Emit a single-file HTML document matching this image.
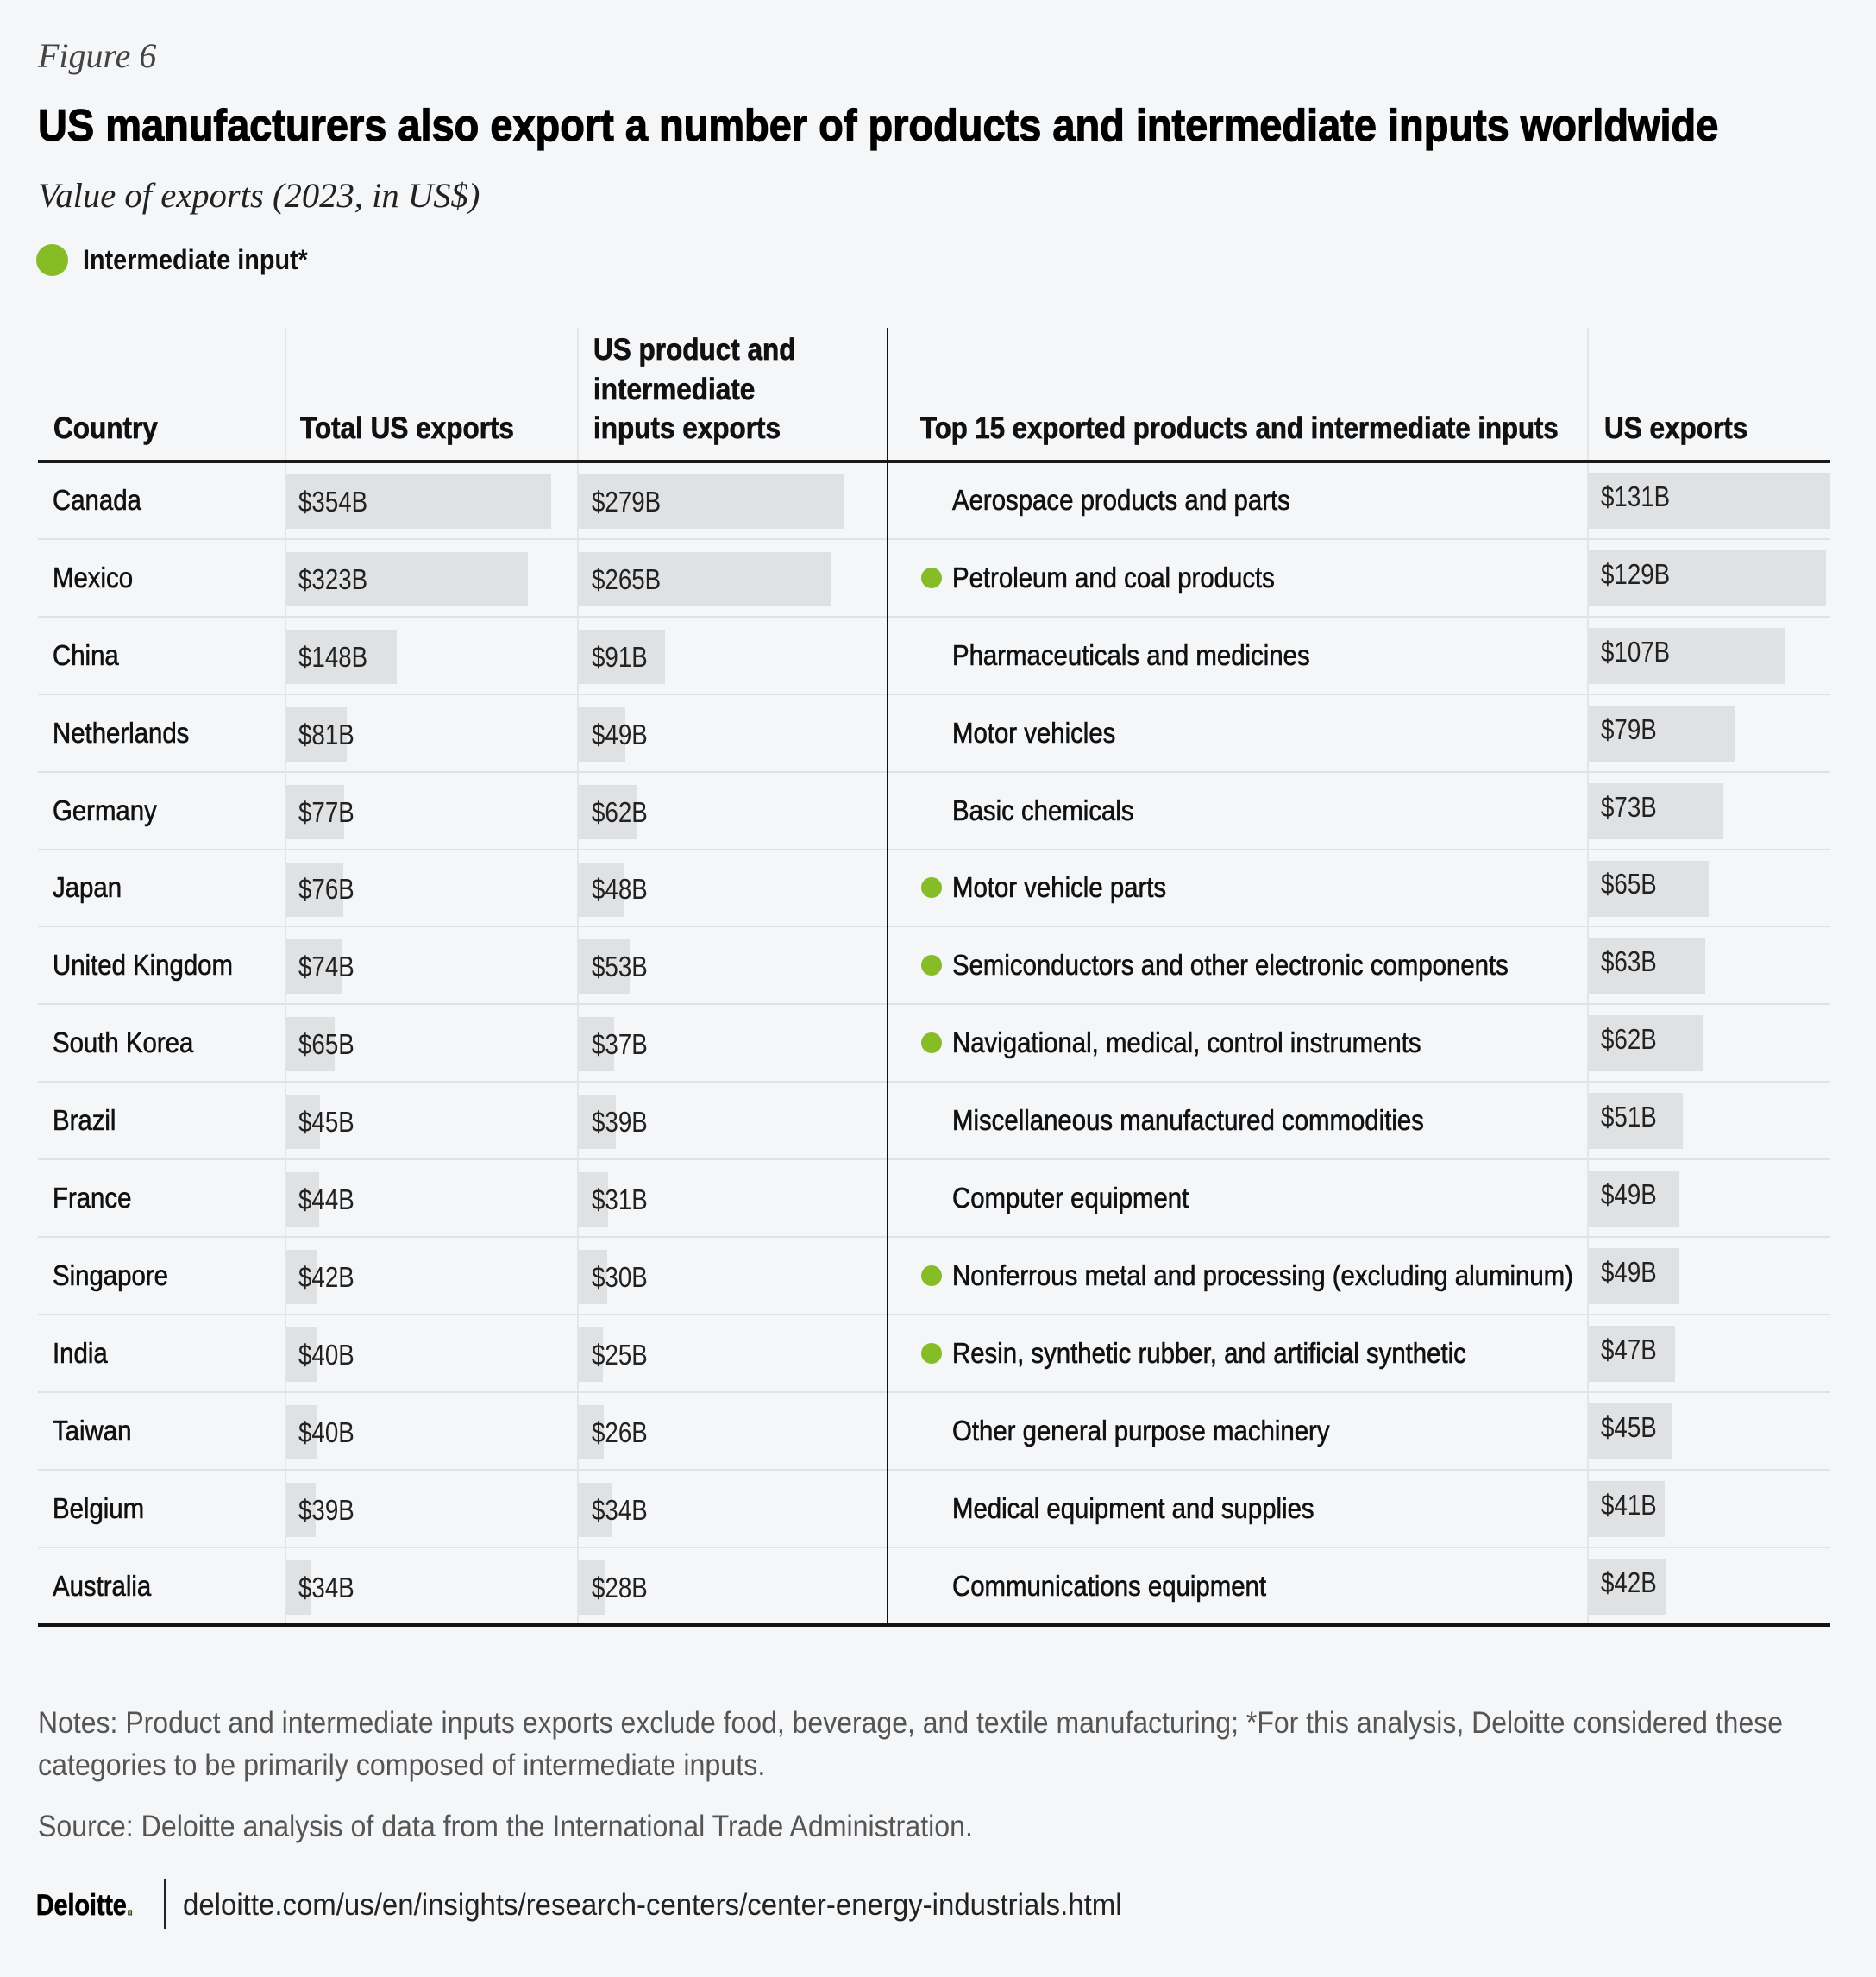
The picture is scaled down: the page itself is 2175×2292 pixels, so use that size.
<!DOCTYPE html>
<html><head><meta charset="utf-8">
<style>
html,body{margin:0;padding:0}
body{width:2175px;height:2292px;background:#f5f6f8;position:relative;overflow:hidden;font-family:"Liberation Sans",sans-serif;color:#111}
.t{position:absolute;white-space:nowrap;transform-origin:0 50%;display:block}
.c{transform:scaleX(0.84)}
.c2{transform:scaleX(0.89);-webkit-text-stroke:0.6px #111}
.c3{transform:scaleX(0.9)}
.ln{position:absolute}
.bar{position:absolute;background:#e0e1e3}
.dot{position:absolute;background:#86bc25;border-radius:50%}
</style></head>
<body>
<div class="t" style="left:44px;top:40px;font:italic 40px 'Liberation Serif',serif;color:#444;line-height:50px">Figure 6</div>
<div class="t fit" data-w="1948" style="left:44px;top:116px;font-weight:bold;font-size:52px;line-height:60px;color:#000;-webkit-text-stroke:1.2px #000">US manufacturers also export a number of products and intermediate inputs worldwide</div>
<div class="t fit" data-w="512" style="left:44px;top:202px;font:italic 40px 'Liberation Serif',serif;color:#222;line-height:50px">Value of exports (2023, in US$)</div>
<div class="dot" style="left:42px;top:283px;width:37px;height:37px"></div>
<div class="t c3" style="left:96px;top:281px;font-weight:bold;font-size:32px;line-height:40px">Intermediate input*</div>

<div id="table"></div>

<div class="t fit" data-w="2023" style="left:44px;top:1976px;font-size:35px;line-height:44px;color:#555">Notes: Product and intermediate inputs exports exclude food, beverage, and textile manufacturing; *For this analysis, Deloitte considered these</div>
<div class="t fit" data-w="843" style="left:44px;top:2025px;font-size:35px;line-height:44px;color:#555">categories to be primarily composed of intermediate inputs.</div>
<div class="t fit" data-w="1084" style="left:44px;top:2096px;font-size:35px;line-height:44px;color:#555">Source: Deloitte analysis of data from the International Trade Administration.</div>
<div class="t c" style="left:42px;top:2187px;font-weight:bold;font-size:34px;line-height:44px;color:#000;-webkit-text-stroke:0.8px #000">Deloitte<span style="color:#86bc25">.</span></div>
<div class="ln" style="left:190px;top:2178px;width:2px;height:58px;background:#222"></div>
<div class="t fit" data-w="1089" style="left:212px;top:2187px;font-size:35px;line-height:44px;color:#222">deloitte.com/us/en/insights/research-centers/center-energy-industrials.html</div>

<script>
const countries=["Canada","Mexico","China","Netherlands","Germany","Japan","United Kingdom","South Korea","Brazil","France","Singapore","India","Taiwan","Belgium","Australia"];
const totalExports=[354,323,148,81,77,76,74,65,45,44,42,40,40,39,34];
const productExports=[279,265,91,49,62,48,53,37,39,31,30,25,26,34,28];
const products=["Aerospace products and parts","Petroleum and coal products","Pharmaceuticals and medicines","Motor vehicles","Basic chemicals","Motor vehicle parts","Semiconductors and other electronic components","Navigational, medical, control instruments","Miscellaneous manufactured commodities","Computer equipment","Nonferrous metal and processing (excluding aluminum)","Resin, synthetic rubber, and artificial synthetic","Other general purpose machinery","Medical equipment and supplies","Communications equipment"];
const productValues=[131,129,107,79,73,65,63,62,51,49,49,47,45,41,42];
const intermediate=[false,true,false,false,false,true,true,true,false,false,true,true,false,false,false];

const T=document.getElementById('table');
const top0=535,rowH=89.9;
const sTotal=v=>v*0.867, sProd=v=>v*1.104, sTop=v=>v*2.135;
function add(tag,cls,style,text){const e=document.createElement(tag);e.className=cls;e.setAttribute('style',style);if(text!=null)e.textContent=text;T.appendChild(e);return e;}

const HS='font-weight:bold;font-size:35px;line-height:44px;-webkit-text-stroke:0.7px #111';
let h;
h=add('div','t c3','left:62px;top:475px;'+HS,'Country');


h=add('div','t c3','left:348px;top:475px;'+HS,'Total US exports');


['US product and','intermediate','inputs exports'].forEach((s,i)=>{
 const e=add('div','t c3','left:688px;top:'+(384+i*45.5)+'px;'+HS,s);
 
 
});
h=add('div','t fit','left:1067px;top:475px;'+HS,'Top 15 exported products and intermediate inputs');
h.dataset.w=740;


h=add('div','t c3','left:1860px;top:475px;'+HS,'US exports');



for(let i=1;i<15;i++){
 const e=add('div','ln','left:44px;top:'+(top0+i*rowH-1)+'px;width:2078px;height:2px;background:#e1e2e4');
 
 
}
[330,669,1840].forEach(x=>{
 const e=add('div','ln','left:'+x+'px;top:380px;width:2px;height:1504px;background:#e4e5e7');
 
 
});

countries.forEach((c,i)=>{
 const y=top0+i*rowH, cy=y+rowH/2;
 let e=add('div','bar','left:332px;top:'+(y+15)+'px;width:'+sTotal(totalExports[i])+'px;height:63px');
 
 
 e=add('div','bar','left:671px;top:'+(y+15)+'px;width:'+sProd(productExports[i])+'px;height:63px');
 
 
 e=add('div','t c2','left:61px;top:'+(cy-20)+'px;font-size:33px;line-height:40px;color:#111',c);
 
 
 e=add('div','t c','left:346px;top:'+(cy-18)+'px;font-size:33px;line-height:40px;color:#222','$'+totalExports[i]+'B');
 
 
 e=add('div','t c','left:686px;top:'+(cy-18)+'px;font-size:33px;line-height:40px;color:#222','$'+productExports[i]+'B');
 
 
});

products.forEach((p,i)=>{
 const y=top0+i*rowH, cy=y+rowH/2;
 let e=add('div','bar','left:1842px;top:'+(y+13)+'px;width:'+sTop(productValues[i])+'px;height:65px');
 
 
 if(intermediate[i]){
  e=add('div','dot','left:1068px;top:'+(cy-12)+'px;width:24px;height:24px');
  
  
 }
 e=add('div','t c2','left:1104px;top:'+(cy-20)+'px;font-size:33px;line-height:40px;color:#111',p);
 
 
 e=add('div','t c','left:1856px;top:'+(cy-24)+'px;font-size:33px;line-height:40px;color:#222','$'+productValues[i]+'B');
 
 
});

let e;
e=add('div','ln','left:1028px;top:380px;width:2px;height:1506px;background:#111');


e=add('div','ln','left:44px;top:533px;width:2078px;height:4px;background:#1a1a1a');


e=add('div','ln','left:44px;top:1882px;width:2078px;height:4px;background:#111');



document.querySelectorAll('.fit').forEach(el=>{
 const w=el.offsetWidth;const tw=+el.dataset.w;
 if(w>0)el.style.transform='scaleX('+(tw/w)+')';
});
</script>
</body></html>
